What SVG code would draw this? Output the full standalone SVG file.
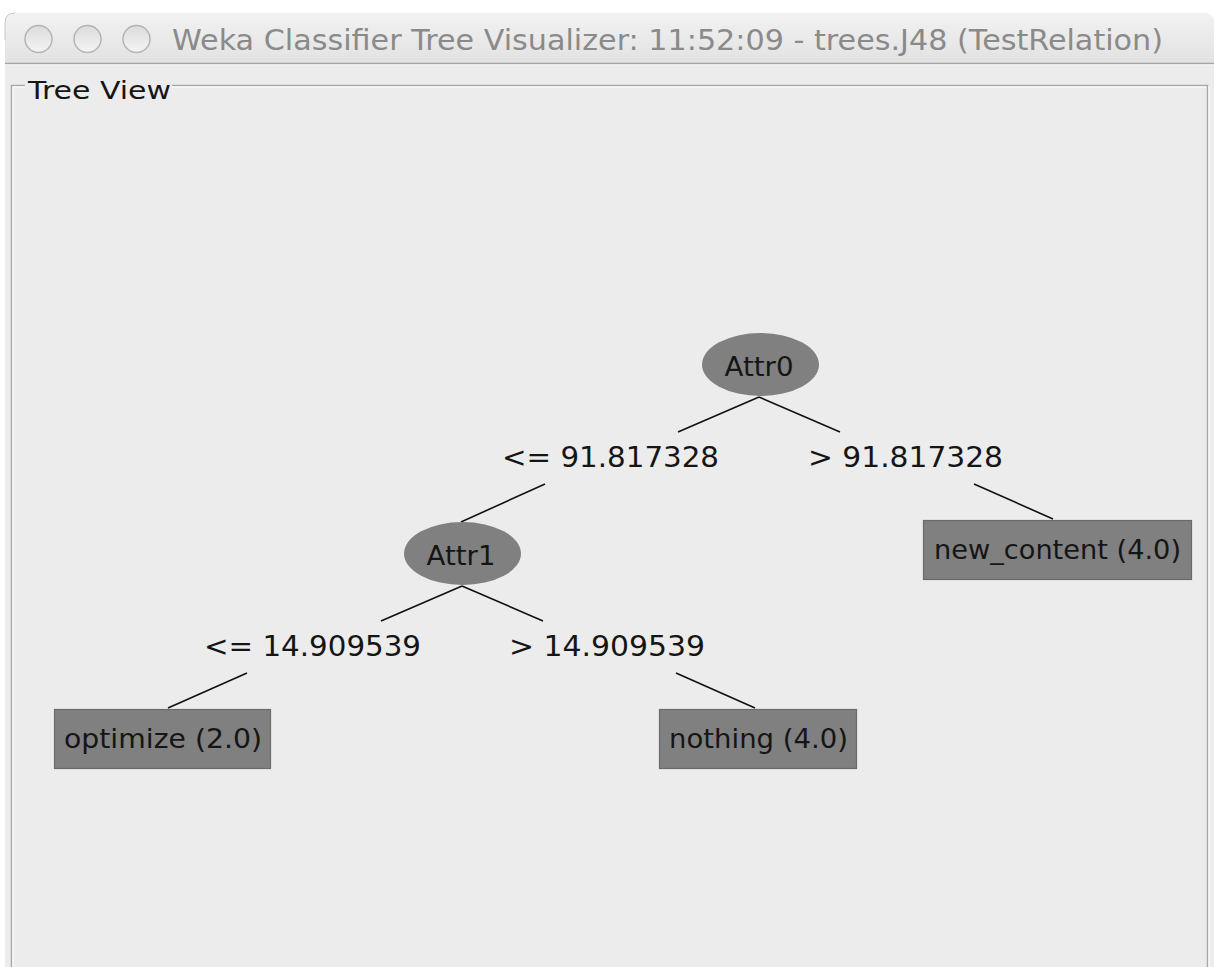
<svg xmlns="http://www.w3.org/2000/svg" width="1214" height="967" viewBox="0 0 1214 967">
<defs>
<linearGradient id="tb" x1="0" y1="0" x2="0" y2="1">
<stop offset="0" stop-color="#f2f2f2"/>
<stop offset="1" stop-color="#e2e2e2"/>
</linearGradient>
<linearGradient id="btn" x1="0" y1="0" x2="0" y2="1">
<stop offset="0" stop-color="#dcdcdc"/>
<stop offset="1" stop-color="#f4f4f4"/>
</linearGradient>
<style>
.t{font-family:"DejaVu Sans","Liberation Sans",sans-serif;fill:#151515}
.lbl{font-size:28px}
.nt{font-size:27px;text-anchor:middle}
.edge{stroke:#111;stroke-width:1.6;fill:none}
.node{fill:#808080}
.leaf{fill:#808080;stroke:#6a6a6a;stroke-width:1.2}
.frame{stroke:#a9a9a9;stroke-width:1.5;fill:none}
.hl{stroke:#ffffff;stroke-width:1;fill:none}
</style>
</defs>
<rect x="0" y="0" width="1214" height="967" fill="#ffffff"/>
<path d="M5,967 V23 Q5,13 15,13 H1204 Q1214,13 1214,23 V967 Z" fill="#ececec"/>
<path d="M5,63 V23 Q5,13 15,13 H1204 Q1214,13 1214,23 V63 Z" fill="url(#tb)"/>
<line x1="5" y1="63.5" x2="1214" y2="63.5" stroke="#a4a4a4" stroke-width="1.5"/>
<line x1="5" y1="65" x2="1214" y2="65" stroke="#f8f8f8" stroke-width="1"/>
<path d="M5,40 V23 Q5,13 15,13" fill="none" stroke="#c8c8c8" stroke-width="1"/>
<g id="buttons">
<circle cx="38.5" cy="39" r="13.5" fill="url(#btn)" stroke="#b4b4b4" stroke-width="1.5"/>
<circle cx="87.5" cy="39" r="13.5" fill="url(#btn)" stroke="#b4b4b4" stroke-width="1.5"/>
<circle cx="136.5" cy="39" r="13.5" fill="url(#btn)" stroke="#b4b4b4" stroke-width="1.5"/>
</g>
<text x="172" y="50" font-family="DejaVu Sans,'Liberation Sans',sans-serif" font-size="29" fill="#8a8a8a" textLength="991" lengthAdjust="spacingAndGlyphs">Weka Classifier Tree Visualizer: 11:52:09 - trees.J48 (TestRelation)</text>
<g id="treeview-frame">
<path class="frame" d="M25,85.5 H11.5 V967"/>
<path class="frame" d="M172,85.5 H1207.5 V967"/>
<path class="hl" d="M25,87 H13 V967"/>
<path class="hl" d="M172,87 H1206 M1209,86 V967"/>
<text x="28" y="99" class="t" font-size="25" textLength="143" lengthAdjust="spacingAndGlyphs">Tree View</text>
</g>
<g id="connectors">
<line class="edge" x1="759" y1="397" x2="678" y2="432"/>
<line class="edge" x1="759" y1="397" x2="840" y2="432"/>
<line class="edge" x1="545" y1="484" x2="461" y2="522"/>
<line class="edge" x1="974" y1="484" x2="1053" y2="519"/>
<line class="edge" x1="462" y1="586" x2="381" y2="621"/>
<line class="edge" x1="462" y1="586" x2="543" y2="621"/>
<line class="edge" x1="247" y1="673" x2="168" y2="708"/>
<line class="edge" x1="676" y1="673" x2="755" y2="708"/>
</g>
<g id="edge-labels">
<text class="t lbl" x="502" y="467" textLength="217" lengthAdjust="spacingAndGlyphs">&lt;= 91.817328</text>
<text class="t lbl" x="808" y="467" textLength="195" lengthAdjust="spacingAndGlyphs">&gt; 91.817328</text>
<text class="t lbl" x="204" y="656" textLength="217" lengthAdjust="spacingAndGlyphs">&lt;= 14.909539</text>
<text class="t lbl" x="509" y="656" textLength="196" lengthAdjust="spacingAndGlyphs">&gt; 14.909539</text>
</g>
<g id="attr0">
<ellipse class="node" cx="760.5" cy="364.5" rx="58.5" ry="31.5"/>
<text class="t nt" x="759" y="376" textLength="69" lengthAdjust="spacingAndGlyphs">Attr0</text>
</g>
<g id="attr1">
<ellipse class="node" cx="462.5" cy="553.5" rx="58.5" ry="31.5"/>
<text class="t nt" x="461" y="565" textLength="69" lengthAdjust="spacingAndGlyphs">Attr1</text>
</g>
<g id="new_content">
<rect class="leaf" x="923.5" y="520.5" width="268" height="59"/>
<text class="t nt" x="1057.5" y="559" textLength="247" lengthAdjust="spacingAndGlyphs">new_content (4.0)</text>
</g>
<g id="optimize">
<rect class="leaf" x="54.5" y="709.5" width="216" height="59"/>
<text class="t nt" x="163" y="748" textLength="198" lengthAdjust="spacingAndGlyphs">optimize (2.0)</text>
</g>
<g id="nothing">
<rect class="leaf" x="659.5" y="709.5" width="197" height="59"/>
<text class="t nt" x="758.5" y="748" textLength="179" lengthAdjust="spacingAndGlyphs">nothing (4.0)</text>
</g>
</svg>
